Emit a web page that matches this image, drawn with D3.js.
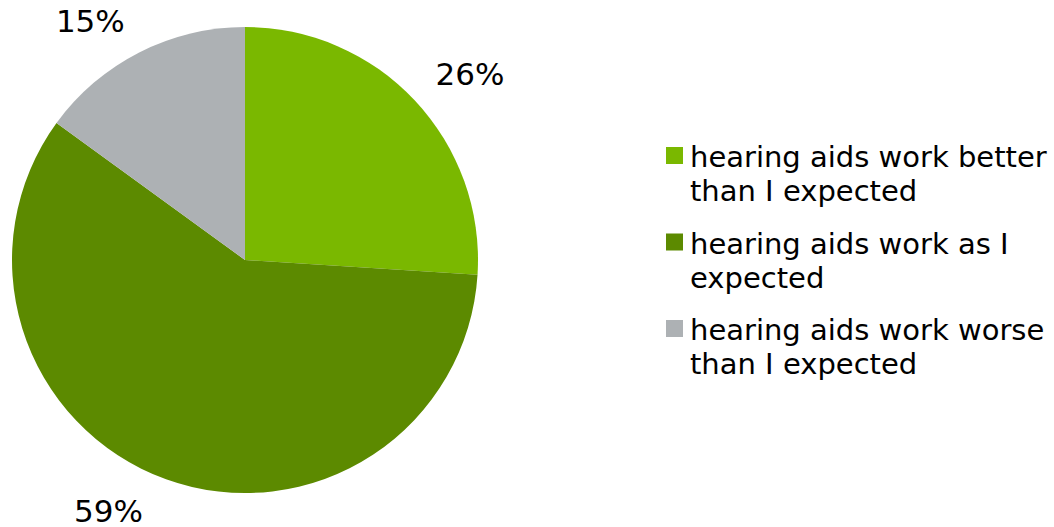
<!DOCTYPE html>
<html>
<head>
<meta charset="utf-8">
<script src="https://cdn.jsdelivr.net/npm/d3@7"></script>
<style>
  body { margin: 0; background: #fff; }
  text { font-family: "DejaVu Sans", Verdana, sans-serif; fill: #000; }
</style>
</head>
<body>
<svg id="chart" width="1054" height="527"></svg>
<script>
// data
var categories = ["hearing aids work better than I expected",
                  "hearing aids work as I expected",
                  "hearing aids work worse than I expected"];
var legendLines = [["hearing aids work better", "than I expected"],
                   ["hearing aids work as I", "expected"],
                   ["hearing aids work worse", "than I expected"]];
var values = [26, 59, 15];
var labels = ["26%", "59%", "15%"];
var colors = ["#7ab800", "#5c8a00", "#adb1b4"];

var width = 1054, height = 527;
var cx = 245, cy = 260, radius = 233;
var fontSize = 29, labelSize = 31;

var svg = d3.select("#chart");

var pie = d3.pie().sort(null).value(function (d) { return d; });
var arcs = pie(values);

var arc = d3.arc().innerRadius(0).outerRadius(radius);

var g = svg.append("g").attr("transform", "translate(" + cx + "," + cy + ")");

g.selectAll("path.slice")
  .data(arcs)
  .enter()
  .append("path")
  .attr("class", "slice")
  .attr("d", arc)
  .attr("fill", function (d, i) { return colors[i]; });

// labels outside, anchored by the corner nearest to the pie
// (lower labels get pushed a bit further sideways, like excel does)
var labelR = 256;
function mid(d) { return (d.startAngle + d.endAngle) / 2; }

g.selectAll("text.pct")
  .data(arcs)
  .enter()
  .append("text")
  .attr("class", "pct")
  .style("font-size", labelSize + "px")
  .attr("text-anchor", function (d) {
    return Math.sin(mid(d)) >= 0 ? "start" : "end";
  })
  .attr("x", function (d) {
    var s = Math.sin(mid(d)), c = Math.cos(mid(d));
    var pad = 4 + 12 * Math.max(0, -c);
    return labelR * s + (s >= 0 ? pad : -pad);
  })
  .attr("y", function (d) {
    var c = Math.cos(mid(d));
    var y = -labelR * c;
    return c >= 0 ? y : y + labelSize * 0.68;
  })
  .text(function (d, i) { return labels[i]; });

// legend
var legend = svg.append("g").attr("transform", "translate(666,147)");
var item = legend.selectAll("g.item")
  .data(categories)
  .enter()
  .append("g")
  .attr("class", "item")
  .attr("transform", function (d, i) { return "translate(0," + (i * 86.5) + ")"; });

item.append("rect")
  .attr("width", 17)
  .attr("height", 17)
  .attr("fill", function (d, i) { return colors[i]; });

item.append("text")
  .attr("x", 24)
  .attr("y", 20)
  .style("font-size", fontSize + "px")
  .selectAll("tspan")
  .data(function (d, i) { return legendLines[i]; })
  .enter()
  .append("tspan")
  .attr("x", 24)
  .attr("dy", function (d, j) { return j === 0 ? 0 : 34; })
  .text(function (d) { return d; });
</script>
</body>
</html>
